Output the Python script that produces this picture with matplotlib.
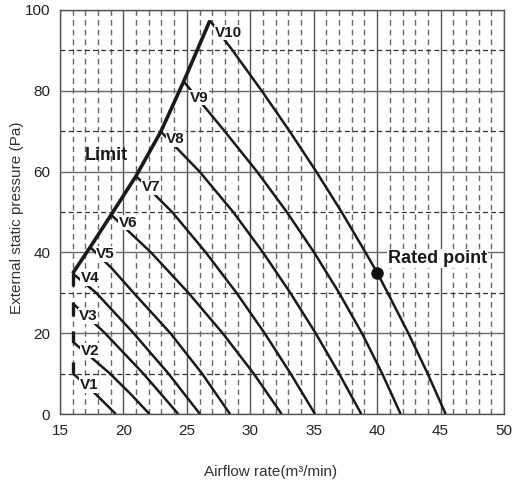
import matplotlib
matplotlib.use("Agg")
import matplotlib.pyplot as plt

plt.rcParams['font.family'] = ['Liberation Sans', 'DejaVu Sans']

# Fan curves: airflow (m3/min) vs external static pressure (Pa), one per speed tap
fan_x = {
    "V1": [16.0, 17.5, 19.4],
    "V2": [16.0, 17.5, 18.94, 20.55, 22.05],
    "V3": [16.0, 17.3, 18.55, 21.57, 24.32],
    "V4": [16.0, 17.85, 20.8, 23.55, 26.03],
    "V5": [17.38, 19.1, 20.8, 23.7, 26.2, 28.4],
    "V6": [19.03, 22.17, 25.12, 27.82, 30.27, 32.47],
    "V7": [20.99, 23.84, 26.49, 28.91, 31.13, 33.18, 35.1],
    "V8": [22.95, 26.0, 28.65, 31.0, 33.15, 35.15, 37.0, 38.75],
    "V9": [24.75, 27.98, 30.53, 32.88, 35.03, 37.0, 38.8, 40.4, 41.85],
    "V10": [26.82, 28.6, 30.9, 33.1, 35.2, 37.2, 39.08, 40.0, 40.83, 42.46, 43.98, 45.4],
}
fan_y = {
    "V1": [10.1, 5.9, 0],
    "V2": [17.9, 13.9, 10, 5, 0],
    "V3": [27.4, 23.7, 20, 10, 0],
    "V4": [34.8, 30, 20, 10, 0],
    "V5": [41.3, 36, 30, 20, 10, 0],
    "V6": [49.3, 40, 30, 20, 10, 0],
    "V7": [58.9, 50, 40, 30, 20, 10, 0],
    "V8": [69.9, 60, 50, 40, 30, 20, 10, 0],
    "V9": [82.3, 70, 60, 50, 40, 30, 20, 10, 0],
    "V10": [97.4, 90, 80, 70, 60, 50, 40, 35, 30, 20, 10, 0],
}

# Speed tap label anchors
label_x = {"V1": 17.3, "V2": 17.36, "V3": 17.23, "V4": 17.36, "V5": 18.6,
           "V6": 20.38, "V7": 22.15, "V8": 24.12, "V9": 25.97, "V10": 28.26}
label_y = {"V1": 7.2, "V2": 15.7, "V3": 24.3, "V4": 33.6, "V5": 39.6,
           "V6": 47.4, "V7": 56.1, "V8": 68.1, "V9": 78.3, "V10": 94.4}

# Operating limit: upper boundary through the start of V4..V10, broken segments at 16 m3/min below
limit_taps = ["V4", "V5", "V6", "V7", "V8", "V9", "V10"]
limit_low_x = 16.0
limit_low_segments = [(10.1, 12.9), (17.9, 20.5), (24.3, 27.6), (31.8, 34.8)]

rated_x, rated_y = 40.0, 35.0

x_ticks = [15, 20, 25, 30, 35, 40, 45, 50]
y_ticks = [0, 20, 40, 60, 80, 100]

W, H = 513, 486
fig = plt.figure(figsize=(W / 100, H / 100), dpi=100)
ax = fig.add_axes([60 / W, (H - 414) / H, 444 / W, 404 / H])

ax.set_xlim(15, 50)
ax.set_ylim(0, 100)
ax.set_xticks(x_ticks)
ax.set_yticks(y_ticks)
ax.set_xticks([v for v in range(16, 50) if v % 5], minor=True)
ax.set_yticks([10, 30, 50, 70, 90], minor=True)

ax.xaxis.grid(True, which='major', color='#555555', lw=1.0, ls='-')
ax.yaxis.grid(True, which='major', color='#6a6a6a', lw=1.0, ls='-')
ax.xaxis.grid(True, which='minor', color='#666666', lw=1.0, ls=(0, (4, 3)))
ax.yaxis.grid(True, which='minor', color='#333333', lw=0.9, ls=(0, (4, 2.5)))
ax.set_axisbelow(True)

for s in ax.spines.values():
    s.set_color('#555555')
    s.set_linewidth(1.0)

ax.tick_params(which='both', length=0)
ax.tick_params(axis='x', pad=7, labelsize=11, colors='#222222')
ax.tick_params(axis='y', pad=7, labelsize=11, colors='#222222')

# Fan curves
for name in fan_x:
    ax.plot(fan_x[name], fan_y[name], color='#1a1a1a', lw=1.8,
            solid_capstyle='butt', solid_joinstyle='round', zorder=3)
    ax.text(label_x[name], label_y[name], name, ha='center', va='center',
            fontsize=11, fontweight='bold', color='#1a1a1a', zorder=4,
            bbox=dict(boxstyle='square,pad=0.05', fc='white', ec='none'))

# Limit line
ax.plot([fan_x[t][0] for t in limit_taps], [fan_y[t][0] for t in limit_taps],
        color='#1a1a1a', lw=2.6, solid_capstyle='butt', solid_joinstyle='round',
        zorder=5)
for lo, hi in limit_low_segments:
    ax.plot([limit_low_x, limit_low_x], [lo, hi], color='#1a1a1a', lw=2.4,
            solid_capstyle='butt', zorder=5)
ax.text(16.97, 64.1, "Limit", ha='left', va='center', fontsize=13,
        fontweight='bold', color='#1a1a1a', zorder=6)

# Rated point
ax.plot([rated_x], [rated_y], 'o', color='#111111', ms=8, zorder=6)
ax.text(40.87, 38.5, "Rated point", ha='left', va='center', fontsize=13,
        fontweight='bold', color='#1a1a1a', zorder=6,
        bbox=dict(boxstyle='square,pad=0.05', fc='white', ec='none'))

fig.text(270.8 / W, 1 - 471.7 / H, "Airflow rate(m\u00b3/min)", ha='center',
         va='center', fontsize=11, color='#333333')
fig.text(16.7 / W, 1 - 217.5 / H, "External static pressure (Pa)", ha='center',
         va='center', rotation=90, fontsize=11, color='#333333')

fig.savefig("out.png", dpi=100)
